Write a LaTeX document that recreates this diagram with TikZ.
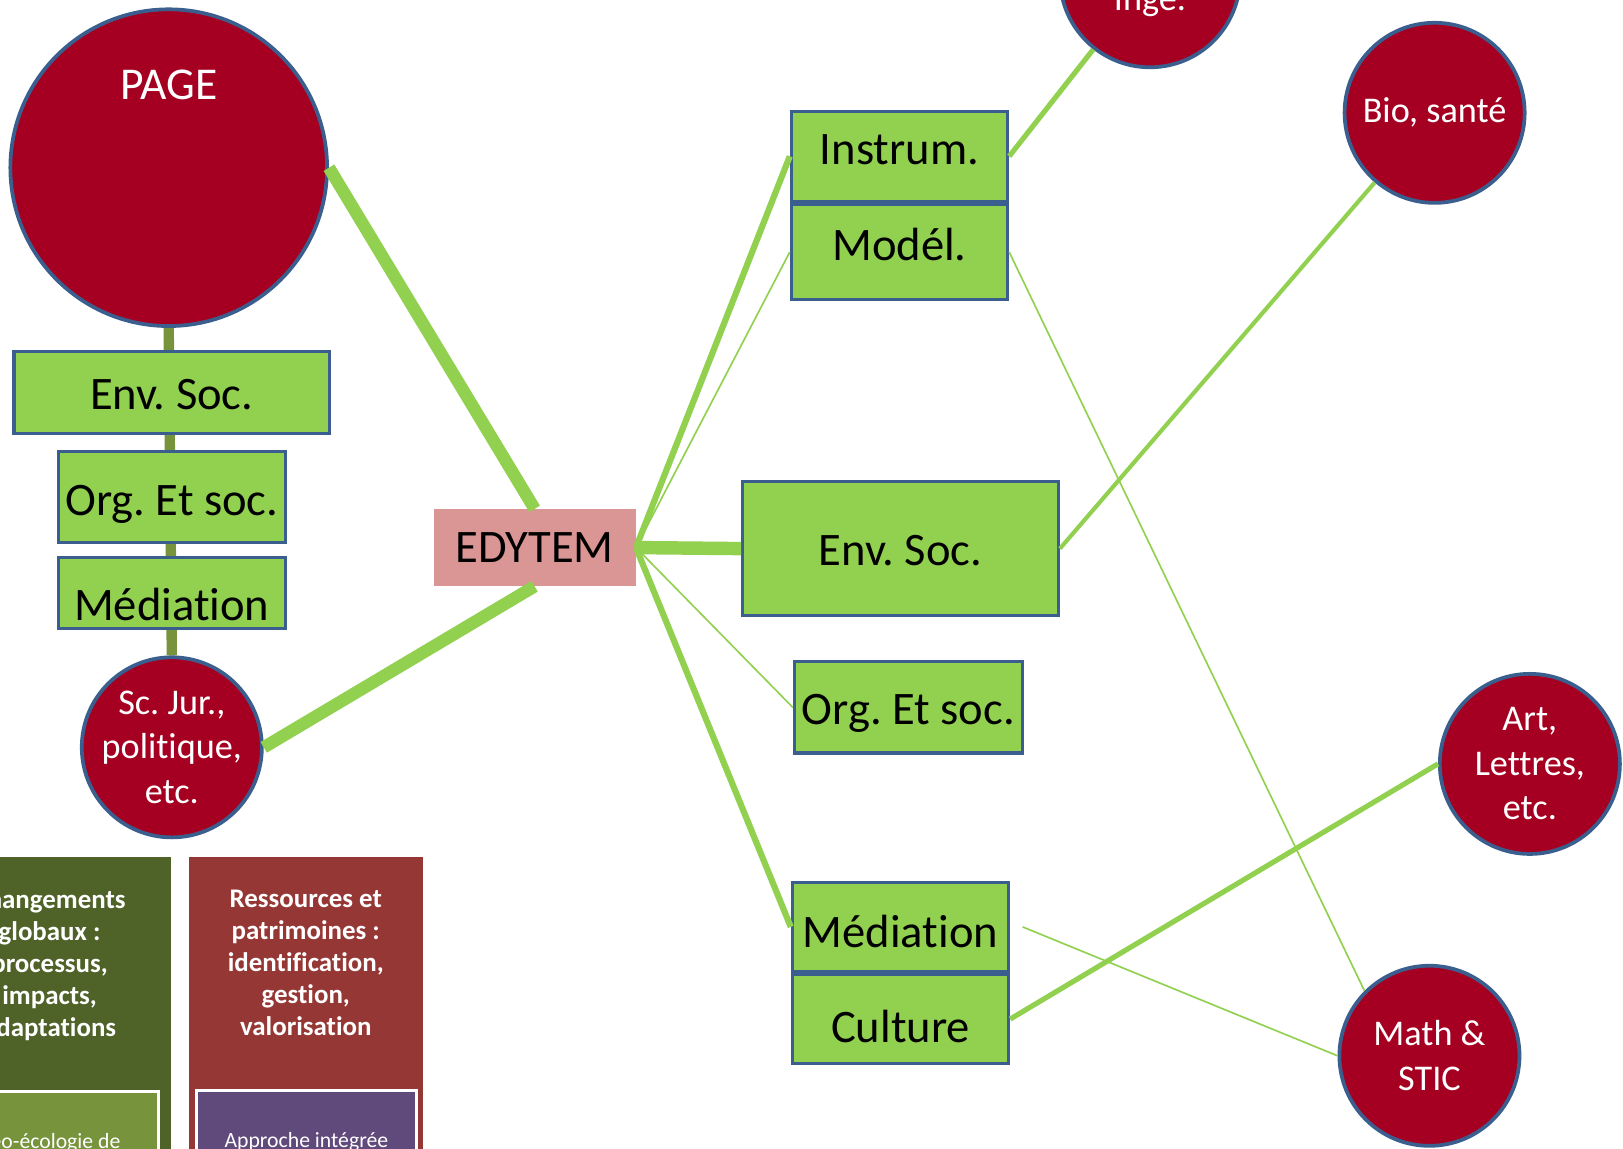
\documentclass[tikz,border=0pt]{standalone}
\usepackage{fontspec}
\setmainfont{Carlito}[Ligatures=CommonOff]
\usetikzlibrary{positioning,backgrounds}
\definecolor{circred}{HTML}{A50021}
\definecolor{rimblue}{HTML}{3A5F8F}
\definecolor{boxgreen}{HTML}{92D050}
\definecolor{stemolive}{HTML}{77933C}
\definecolor{edypink}{HTML}{D99694}
\definecolor{chgolive}{HTML}{4F6228}
\definecolor{resred}{HTML}{953735}
\definecolor{approchepurple}{HTML}{604A7B}
\frenchspacing
\begin{document}
\begin{tikzpicture}[x=0.5pt,y=-0.5pt,
    field/.style={circle, draw=rimblue, line width=1.8pt, fill=circred, text=white,
        inner sep=-10pt, minimum size=87pt, align=center,
        font=\fontsize{17.5}{21.5}\selectfont},
    theme/.style={rectangle, draw=rimblue, line width=1.5pt, fill=boxgreen,
        inner sep=0pt, text height=21pt, text depth=5pt,
        font=\fontsize{22.5}{27}\selectfont},
    link/.style={boxgreen, line width=#1},
    link/.default=0.8pt,
    panel/.style={fill=#1, inner sep=0pt, anchor=north west},
    paneltitle/.style={text=white, inner sep=0pt, align=center,
        font=\bfseries\fontsize{13}{15.5}\selectfont},
    paneltext/.style={text=white, inner sep=0pt,
        font=\fontsize{10.5}{12.5}\selectfont}]
    \useasboundingbox (0,0) rectangle (1568,1110);
    % Left column
    \node[field, minimum size=153pt, text height=16pt, text depth=82pt,
        font=\fontsize{22}{26}\selectfont] (page) at (163,162) {PAGE};
    \node[theme, minimum width=152.5pt, minimum height=39.5pt, text height=22pt] (envL) at (166,379) {Env. Soc.};
    \node[theme, minimum width=109.5pt, minimum height=44pt, text height=23pt] (orgL) at (166,480.5) {Org. Et soc.};
    \node[theme, minimum width=109.5pt, minimum height=34.5pt, text height=29pt, text depth=3pt] (medL) at (166,573) {Médiation};
    \node[field] (scjur) at (166,722) {Sc. Jur.,\\politique,\\etc.};
    % Centre
    \node[fill=edypink, minimum width=97.5pt, minimum height=37pt, inner sep=0pt,
        font=\fontsize{22.5}{27}\selectfont] (edytem) at (516.5,529) {EDYTEM};
    % Right column
    \node[theme, minimum width=104.5pt, minimum height=43.5pt, text height=16pt, text depth=8pt] (instr) at (869,151) {Instrum.};
    \node[theme, minimum width=104.5pt, minimum height=46pt, text height=16pt, text depth=8pt, below=0pt of instr] (model) {Modél.};
    \node[theme, minimum width=152.5pt, minimum height=64.5pt] (envR) at (870,530) {Env. Soc.};
    \node[theme, minimum width=110pt, minimum height=44pt] (orgR) at (877.5,683.5) {Org. Et soc.};
    \node[theme, minimum width=104.5pt, minimum height=43pt, text height=25pt] (medR) at (870,895.5) {Médiation};
    \node[theme, minimum width=104.5pt, minimum height=43pt, text height=28pt, below=0pt of medR] (cult) {Culture};
    % Disciplines
    \node[field, text height=36pt, text depth=4pt] (inge) at (1111,-22) {Ingé.};
    \node[field] (bio) at (1386,109) {Bio, santé};
    \node[field] (art) at (1478,738) {Art,\\Lettres,\\etc.};
    \node[field] (math) at (1381,1020) {Math \&\\STIC};
    % Links
    \begin{scope}[on background layer]
        \draw[stemolive, line width=5pt] (page.south) -- (scjur.north);
    \end{scope}
    \draw[link=6pt] (page.east) -- (edytem.north);
    \draw[link=6pt] (scjur.east) -- (edytem.south);
    \draw[link=6.5pt] (edytem.east) -- (envR.west);
    \draw[link=3pt] (edytem.east) -- (instr.west);
    \draw[link] (edytem.east) -- (model.west);
    \draw[link] (edytem.east) -- (orgR.west);
    \draw[link=3pt] (edytem.east) -- (medR.west);
    \draw[link=2.5pt] (instr.east) -- (inge);
    \draw[link=2pt] (envR.east) -- (bio);
    \draw[link=2.5pt] (cult.east) -- (art.west);
    \draw[link] (model.east) -- (math.135);
    \draw[link] ([xshift=6pt]medR.east) -- (math.west);
    % Axes panels
    \node[panel=chgolive, minimum width=117.5pt, minimum height=171pt] (chg) at (-70,828) {};
    \node[panel=resred, minimum width=113pt, minimum height=171pt] (res) at (182,828) {};
    \node[paneltitle, below=15.5pt of chg.north] {Changements\\globaux :\\processus,\\impacts,\\adaptations};
    \node[paneltitle, below=15.5pt of res.north] {Ressources et\\patrimoines :\\identification,\\gestion,\\valorisation};
    \node[panel=stemolive, draw=white, line width=1.5pt, minimum width=106.5pt, minimum height=60pt] (geo) at (-61,1053) {};
    \node[panel=approchepurple, draw=white, line width=1.5pt, minimum width=106.5pt, minimum height=60pt] (appr) at (188,1052) {};
    \node[paneltext, below=21pt of geo.north] {Géo-écologie de};
    \node[paneltext, below=21pt of appr.north] {Approche intégrée};
\end{tikzpicture}
\end{document}
